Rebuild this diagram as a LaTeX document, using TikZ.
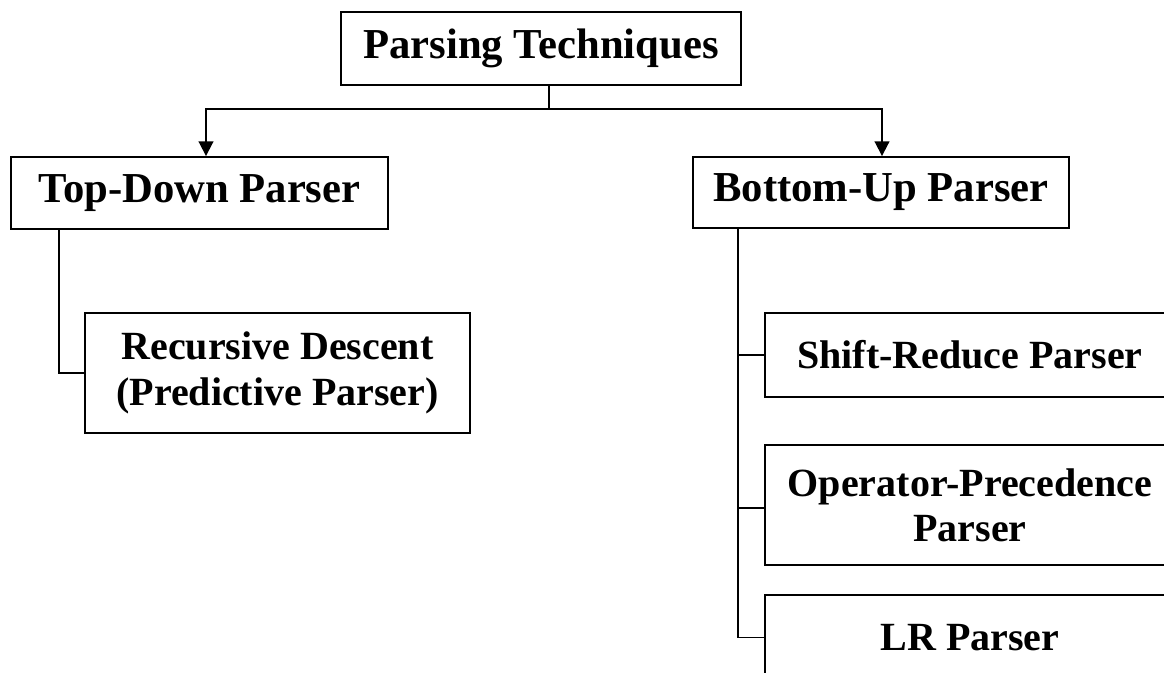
\documentclass[tikz,border=0pt]{standalone}
\usepackage{fontspec}
\setmainfont{Liberation Serif}
\usetikzlibrary{arrows.meta}
\tikzset{
  box/.style={draw, line width=1.4pt, rectangle, inner sep=0pt, align=center, font=\bfseries},
  big/.style={font=\fontsize{32}{40}\selectfont\bfseries},
  mid/.style={font=\fontsize{32}{38}\selectfont\bfseries},
  small/.style={font=\fontsize{30}{34}\selectfont\bfseries},
  conn/.style={line width=1.4pt},
  arr/.style={line width=1.4pt, -{Triangle[width=11pt,length=11pt]}},
}
\begin{document}
\begin{tikzpicture}[x=0.75pt,y=-0.75pt]
\useasboundingbox (0,0) rectangle (1164,673);
\clip (0,0) rectangle (1164,673);
\node[box,big,minimum width=400*0.75pt,minimum height=73*0.75pt] (pt) at (541,48.5) {Parsing Techniques};
\node[box,mid,minimum width=377*0.75pt,minimum height=72*0.75pt] (td) at (199.5,193) {Top-Down Parser};
\node[box,mid,minimum width=376*0.75pt,minimum height=71*0.75pt] (bu) at (881,192.5) {Bottom-Up Parser};
\node[box,small,minimum width=385*0.75pt,minimum height=120*0.75pt] (rd) at (277.5,373) {Recursive Descent\\(Predictive Parser)};
\node[box,small,minimum width=410*0.75pt,minimum height=84*0.75pt] (sr) at (970,355) {Shift-Reduce Parser};
\node[box,small,minimum width=410*0.75pt,minimum height=120*0.75pt] (op) at (970,505) {Operator-Precedence\\Parser};
\node[box,small,minimum width=410*0.75pt,minimum height=85*0.75pt] (lr) at (970,637.5) {LR Parser};
\coordinate (tj) at (549,109);
\coordinate (ta) at (206,109);
\coordinate (tb) at (882,109);
\coordinate (lx) at (59,0);
\coordinate (bx) at (738,0);
\coordinate (oy) at (0,508);
\draw[conn] (pt.south -| tj) -- (tj);
\draw[arr] (tj) -- (ta) -- (td.north -| ta);
\draw[arr] (tj) -- (tb) -- (bu.north -| tb);
\draw[conn] (td.south -| lx) |- (rd.west);
\draw[conn] (bu.south -| bx) |- (lr.west);
\draw[conn] (bx |- sr.west) -- (sr.west);
\draw[conn] (bx |- oy) -- (op.west |- oy);
\end{tikzpicture}
\end{document}
